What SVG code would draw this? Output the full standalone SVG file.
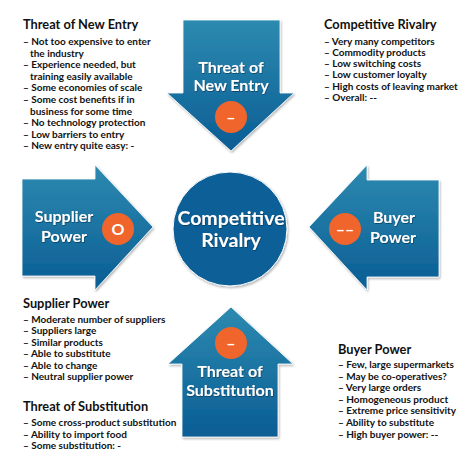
<svg xmlns="http://www.w3.org/2000/svg" width="460" height="460" viewBox="0 0 460 460">
<defs>
<linearGradient id="gv" x1="0" y1="0" x2="0" y2="1">
<stop offset="0" stop-color="#2d8ab0"/>
<stop offset="1" stop-color="#0a5d94"/>
</linearGradient>
<filter id="sh" x="-10%" y="-10%" width="130%" height="130%">
<feDropShadow dx="1" dy="1.5" stdDeviation="1.2" flood-color="#000" flood-opacity="0.3"/>
</filter>
<filter id="ts" x="-10%" y="-20%" width="120%" height="150%">
<feDropShadow dx="0.6" dy="0.9" stdDeviation="0.5" flood-color="#04324f" flood-opacity="0.7"/>
</filter>
<style>
.arrow{fill:url(#gv);stroke:#ffffff;stroke-width:0.8;filter:url(#sh)}
.badge{fill:#f0652b}
.lbl{font-family:Lato,"Open Sans","Liberation Sans",sans-serif;font-weight:700;font-size:16px;fill:#ffffff;text-anchor:middle;filter:url(#ts)}
.big{font-size:19.5px}
.bd{font-family:Lato,"Liberation Sans",sans-serif;font-weight:700;font-size:16px;fill:#ffffff;text-anchor:middle}
.h{font-family:Lato,"Open Sans","Liberation Sans",sans-serif;font-weight:700;font-size:12.8px;fill:#111111}
.it{font-family:Lato,"Open Sans","Liberation Sans",sans-serif;font-weight:700;font-size:10px;fill:#111111}
</style>
</defs>
<rect width="460" height="460" fill="#ffffff"/>

<g id="node-threat-new-entry">
<path class="arrow" d="M183,20 H280 V93 H294 L231,151 L167,93 H183 Z"/>
<text class="lbl" x="231" y="73">Threat of</text>
<text class="lbl" x="231" y="91">New Entry</text>
<circle class="badge" cx="231" cy="117" r="16"/>
<text class="bd" x="231" y="123">–</text>
</g>

<g id="node-supplier-power">
<path class="arrow" d="M22,179 H95 V165 L153,227 L95,290 V276 H22 Z"/>
<text class="lbl" x="64" y="222">Supplier</text>
<text class="lbl" x="64" y="242">Power</text>
<circle class="badge" cx="118" cy="229" r="16"/>
<text class="bd" x="118" y="235">O</text>
</g>

<g id="node-buyer-power">
<path class="arrow" d="M439,180 H367 V165 L309,227 L367,290 V277 H439 Z"/>
<text class="lbl" x="394" y="223">Buyer</text>
<text class="lbl" x="393" y="243">Power</text>
<circle class="badge" cx="345" cy="229" r="16"/>
<text class="bd" x="345" y="235">––</text>
</g>

<g id="node-threat-substitution">
<path class="arrow" d="M231,307 L293,364 H278 V437 H182 V364 H168 Z"/>
<circle class="badge" cx="231" cy="343" r="16"/>
<text class="bd" x="231" y="349">–</text>
<text class="lbl" x="230" y="377">Threat of</text>
<text class="lbl" x="230" y="396">Substitution</text>
</g>

<g id="node-competitive-rivalry">
<circle cx="230" cy="229" r="57" fill="#0b5f97" stroke="#ffffff" stroke-width="1" filter="url(#sh)"/>
<text class="lbl big" x="231" y="225">Competitive</text>
<text class="lbl big" x="231" y="247">Rivalry</text>
</g>

<g id="connectors"></g>

<g id="text-threat-new-entry">
<text class="h" x="23" y="29">Threat of New Entry</text>
<text class="it" x="23" y="45">– Not too expensive to enter</text>
<text class="it" x="30" y="56.5">the industry</text>
<text class="it" x="23" y="68">– Experience needed, but</text>
<text class="it" x="30" y="79.7">training easily available</text>
<text class="it" x="23" y="91.3">– Some economies of scale</text>
<text class="it" x="23" y="103">– Some cost benefits if in</text>
<text class="it" x="30" y="114.5">business for some time</text>
<text class="it" x="23" y="126">– No technology protection</text>
<text class="it" x="23" y="137.8">– Low barriers to entry</text>
<text class="it" x="23" y="149.4">– New entry quite easy: -</text>
</g>

<g id="text-competitive-rivalry">
<text class="h" x="324" y="29">Competitive Rivalry</text>
<text class="it" x="324" y="44.5">– Very many competitors</text>
<text class="it" x="324" y="55.8">– Commodity products</text>
<text class="it" x="324" y="67">– Low switching costs</text>
<text class="it" x="324" y="78.3">– Low customer loyalty</text>
<text class="it" x="324" y="89.6">– High costs of leaving market</text>
<text class="it" x="324" y="101">– Overall: --</text>
</g>

<g id="text-supplier-power">
<text class="h" x="23" y="308">Supplier Power</text>
<text class="it" x="23" y="322.5">– Moderate number of suppliers</text>
<text class="it" x="23" y="334">– Suppliers large</text>
<text class="it" x="23" y="345.5">– Similar products</text>
<text class="it" x="23" y="357">– Able to substitute</text>
<text class="it" x="23" y="368.7">– Able to change</text>
<text class="it" x="23" y="380.3">– Neutral supplier power</text>
</g>

<g id="text-threat-substitution">
<text class="h" x="23" y="411">Threat of Substitution</text>
<text class="it" x="23" y="426">– Some cross-product substitution</text>
<text class="it" x="23" y="437.5">– Ability to import food</text>
<text class="it" x="23" y="449">– Some substitution: -</text>
</g>

<g id="text-buyer-power">
<text class="h" x="338" y="354">Buyer Power</text>
<text class="it" x="338" y="368">– Few, large supermarkets</text>
<text class="it" x="338" y="379.6">– May be co-operatives?</text>
<text class="it" x="338" y="391.2">– Very large orders</text>
<text class="it" x="338" y="402.8">– Homogeneous product</text>
<text class="it" x="338" y="414.4">– Extreme price sensitivity</text>
<text class="it" x="338" y="426">– Ability to substitute</text>
<text class="it" x="338" y="437.6">– High buyer power: --</text>
</g>
</svg>
